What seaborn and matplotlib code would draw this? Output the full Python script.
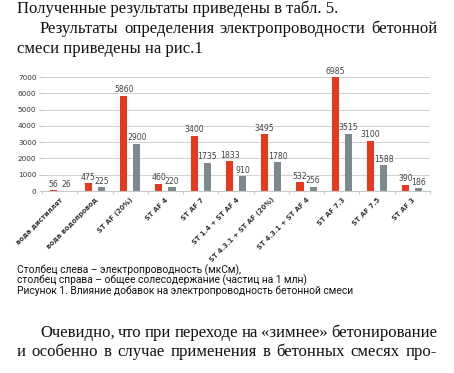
import numpy as np
import pandas as pd
import matplotlib
matplotlib.use("Agg")
import matplotlib.pyplot as plt
import seaborn as sns

# ── Data ──────────────────────────────────────────────────────────────────────
CATEGORIES = [
    "вода дистиллят", "вода водопровод", "ST AF (20%)", "ST AF 4", "ST AF 7",
    "ST 1.4 + ST AF 4", "ST 4.3.1 + ST AF (20%)", "ST 4.3.1 + ST AF 4",
    "ST AF 7.3", "ST AF 7.5", "ST AF 3",
]
CONDUCTIVITY = [56, 475, 5860, 460, 3400, 1833, 3495, 532, 6985, 3100, 390]
SALINITY     = [26, 225, 2900, 220, 1735, 910, 1780, 256, 3515, 1588, 186]
Y_TICKS      = [0, 1000, 2000, 3000, 4000, 5000, 6000, 7000]

RED  = "#E8391D"
GREY = "#7C8A90"
W, H = 454, 373

SERIF  = ["Liberation Serif", "DejaVu Serif"]
NARROW = ["Roboto", "DejaVu Sans"]

df = pd.DataFrame({
    "cat": CATEGORIES * 2,
    "val": CONDUCTIVITY + SALINITY,
    "kind": ["cond"] * len(CATEGORIES) + ["salt"] * len(CATEGORIES),
})

fig = plt.figure(figsize=(W / 100, H / 100), dpi=100, facecolor="white")
ax = fig.add_axes([42 / W, 1 - 191 / H, (430 - 42) / W, (191 - 77) / H])

sns.barplot(data=df, x="cat", y="val", hue="kind", order=CATEGORIES,
            palette={"cond": RED, "salt": GREY}, width=0.74, gap=0.46,
            legend=False, ax=ax, saturation=1)

for cont in ax.containers:
    ax.bar_label(cont, padding=1, fontsize=5.6, color="#444444",
                 family="DejaVu Sans")

ax.set_ylim(0, 7000)
ax.set_xlim(-0.5, len(CATEGORIES) - 0.5)
ax.set_yticks(Y_TICKS)
ax.set_yticklabels([str(t) for t in Y_TICKS], fontsize=5.2, color="#333333")
ax.yaxis.grid(True, color="#D0D0D0", linewidth=0.7)
ax.set_axisbelow(True)
ax.set_xlabel("")
ax.set_ylabel("")
for s in ["top", "right", "left"]:
    ax.spines[s].set_visible(False)
ax.spines["bottom"].set_color("#C8C8C8")
ax.tick_params(axis="y", length=2, color="#C8C8C8", pad=2)
ax.tick_params(axis="x", length=0, pad=4)
ax.set_xticks(np.arange(-0.5, len(CATEGORIES) - 0.4, 1), minor=True)
ax.tick_params(axis="x", which="minor", length=2, color="#C8C8C8")
ax.set_xticks(range(len(CATEGORIES)))
ax.set_xticklabels(CATEGORIES, rotation=45, ha="right", rotation_mode="anchor",
                   fontsize=4.9, color="#333333", fontweight="semibold")


def put(x, y, s, size, family, **kw):
    return fig.text(x / W, 1 - y / H, s, fontsize=size, family=family,
                    va="baseline", ha="left", color="#111111", **kw)


def justify(x0, x1, y, line, size, family):
    # place words one by one so the line fills x0..x1
    words = line.split(" ")
    renderer = fig.canvas.get_renderer()
    arts = [put(x0, y, w, size, family) for w in words]
    widths = [a.get_window_extent(renderer).width for a in arts]
    space = (x1 - x0 - sum(widths)) / (len(words) - 1)
    x = x0
    for a, wd in zip(arts, widths):
        a.set_x(x / W)
        x += wd + space


# ── Page text ─────────────────────────────────────────────────────────────────
put(17, 13, "Полученные результаты приведены в табл. 5.", 12, SERIF)
justify(40, 437, 33, "Результаты определения электропроводности бетонной", 12, SERIF)
put(17, 53, "смеси приведены на рис.1", 12, SERIF)

put(17, 273, "Столбец слева – электропроводность (мкСм),", 7.4, NARROW)
put(17, 283.5, "столбец справа – общее солесодержание (частиц на 1 млн)", 7.4, NARROW)
put(17, 294, "Рисунок 1. Влияние добавок на электропроводность бетонной смеси", 7.4, NARROW)

justify(40, 437, 337, "Очевидно, что при переходе на «зимнее» бетонирование", 12, SERIF)
justify(17, 437, 356, "и особенно в случае применения в бетонных смесях про-", 12, SERIF)

fig.savefig("out.png", dpi=100, facecolor="white")
